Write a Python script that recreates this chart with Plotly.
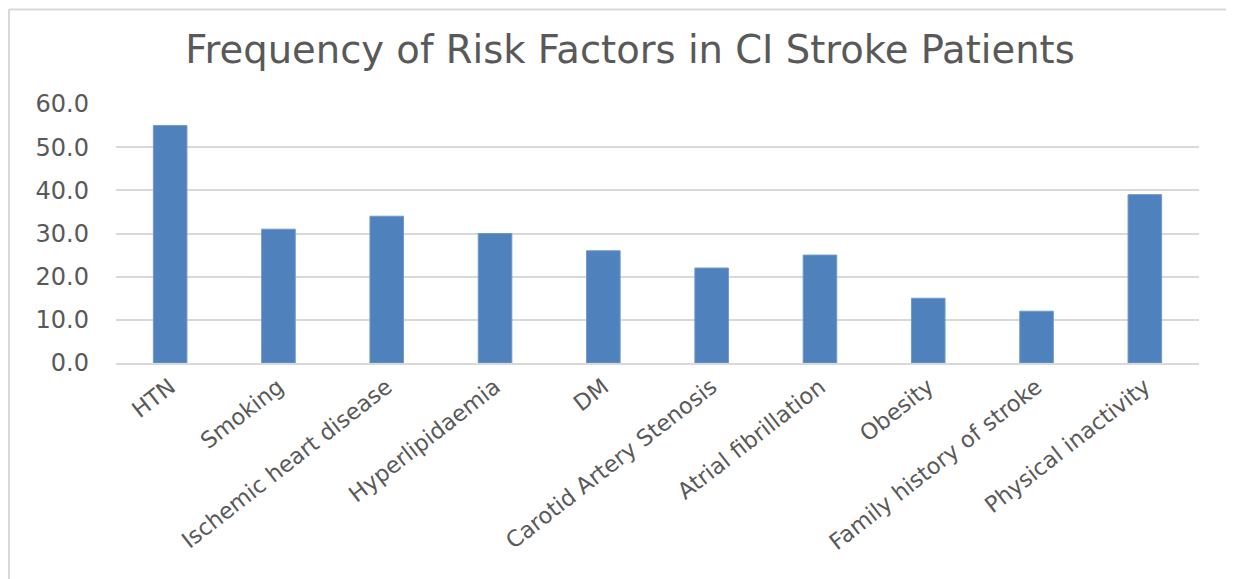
import plotly.graph_objects as go

categories = ["HTN", "Smoking", "Ischemic heart disease", "Hyperlipidaemia", "DM",
              "Carotid Artery Stenosis", "Atrial fibrillation", "Obesity",
              "Family history of stroke", "Physical inactivity"]
values = [55.0, 31.0, 34.0, 30.0, 26.0, 22.0, 25.0, 15.0, 12.0, 39.0]
tick_vals = [0, 10, 20, 30, 40, 50, 60]
tick_text = ["0.0", "10.0", "20.0", "30.0", "40.0", "50.0", "60.0"]

# page body adds an 8px offset; compensate
OFF = 8
W, H = 1234, 579
L, T = 116 - OFF, 104 - OFF
pw, ph = 1083, 259
R = W - L - pw
B = H - T - ph

def px(x):
    return (x - OFF - L) / pw

def py(y):
    return (T + ph - (y - OFF)) / ph

fig = go.Figure(go.Bar(
    x=categories, y=values,
    marker=dict(color="#4F81BD", line=dict(color="#6F98CC", width=1)),
    width=0.31,
))

border = "#D9D9D9"
fig.update_layout(
    width=W, height=H,
    margin=dict(l=L, r=R, t=T, b=B, autoexpand=False),
    paper_bgcolor="white", plot_bgcolor="white",
    showlegend=False,
    title=dict(text="Frequency of Risk Factors in CI Stroke Patients",
               x=(630 - OFF) / W, xref="container", xanchor="center",
               y=1 - (50 - OFF) / H, yref="container", yanchor="middle",
               font=dict(family="DejaVu Sans", size=38.5, color="#595959")),
    xaxis=dict(tickangle=-38, tickfont=dict(family="DejaVu Sans", size=22.5, color="#595959"),
               showgrid=False, showline=True, linecolor="#D9D9D9", linewidth=2,
               ticks="", range=[-0.5, 9.5]),
    yaxis=dict(range=[0, 60], tickvals=tick_vals, ticktext=tick_text,
               tickfont=dict(family="DejaVu Sans", size=24, color="#595959"),
               showgrid=True, gridcolor="#D9D9D9", gridwidth=2,
               zeroline=False, showline=False, ticks="", ticklabelstandoff=26),
    shapes=[
        dict(type="line", xref="paper", yref="paper", x0=px(9), x1=px(9), y0=py(9), y1=py(590),
             line=dict(color=border, width=2)),
        dict(type="line", xref="paper", yref="paper", x0=px(9), x1=px(1233), y0=py(9.5), y1=py(9.5),
             line=dict(color=border, width=2)),
        dict(type="line", xref="paper", yref="paper", x0=px(1232), x1=px(1232), y0=py(9), y1=py(590),
             line=dict(color="#EFEFEF", width=1)),
    ],
)

fig.write_html("out.html")
